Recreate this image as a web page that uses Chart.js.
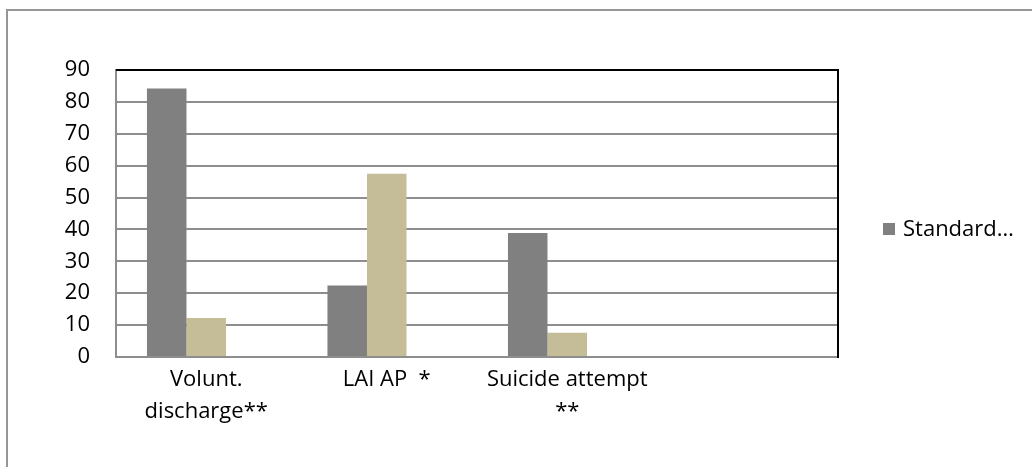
<!DOCTYPE html>
<html>
<head>
<meta charset="utf-8">
<script src="https://cdn.jsdelivr.net/npm/chart.js@4/dist/chart.umd.min.js"></script>
<style>
  html, body { margin: 0; padding: 0; background: #fff; overflow: hidden; }
  #wrap { position: relative; width: 1032px; height: 467px; }
  #frame {
    position: absolute; left: 6px; top: 9px; width: 1026px; height: 470px;
    border-top: 2px solid #969696; border-left: 2px solid #969696;
    box-sizing: border-box;
  }
  canvas { position: absolute; left: 0; top: 0; }
</style>
</head>
<body>
<div id="wrap">
  <div id="frame"></div>
  <canvas id="chart" width="1032" height="467"></canvas>
</div>
<script>
// categories along x, the last slot is left empty
const categories = [['Volunt.', 'discharge**'], 'LAI AP  *', ['Suicide attempt', '**'], ''];
// series values (%)
const standardValues = [84.2, 22.4, 38.9, null];
const secondValues = [12.2, 57.5, 7.6, null];
const thirdValues = [null, null, null, null];
// y axis
const yTicks = [0, 10, 20, 30, 40, 50, 60, 70, 80, 90];

const FONT = '"Open Sans", "Noto Sans", sans-serif';
const FONT_SIZE = 22;

// black top/right border of the plot area
const plotFrame = {
    id: 'plotFrame',
    afterDatasetsDraw(chart) {
        const { ctx, chartArea: a } = chart;
        ctx.save();
        ctx.strokeStyle = '#000';
        ctx.lineWidth = 2;
        ctx.beginPath();
        ctx.moveTo(a.left, a.top);
        ctx.lineTo(a.right, a.top);
        ctx.lineTo(a.right, a.bottom + 1);
        ctx.stroke();
        ctx.restore();
    }
};

// legend: only the first series label fits in the box
const sideLegend = {
    id: 'sideLegend',
    afterDraw(chart) {
        const { ctx } = chart;
        const ds = chart.data.datasets[0];
        ctx.save();
        ctx.fillStyle = ds.backgroundColor;
        ctx.fillRect(883, 223, 12, 12);
        ctx.fillStyle = '#000';
        ctx.font = FONT_SIZE + 'px ' + FONT;
        ctx.textBaseline = 'alphabetic';
        ctx.fillText(ds.label, 903, 236);
        ctx.restore();
    }
};

new Chart(document.getElementById('chart'), {
    type: 'bar',
    data: {
        labels: categories,
        datasets: [
            { label: 'Standard…', data: standardValues, backgroundColor: '#808080' },
            { label: 'Series 2', data: secondValues, backgroundColor: '#c4bd97' },
            { label: 'Series 3', data: thirdValues, backgroundColor: '#4f81bd' }
        ]
    },
    options: {
        responsive: false,
        animation: false,
        layout: { padding: { top: 70, right: 194, left: 0, bottom: 0 } },
        datasets: { bar: { categoryPercentage: 0.657, barPercentage: 1 } },
        scales: {
            x: {
                grid: { display: false, drawTicks: false },
                border: { color: '#8e8e8e', width: 2 },
                ticks: { color: '#000', padding: 6, maxRotation: 0, autoSkip: false,
                         font: { family: FONT, size: FONT_SIZE, lineHeight: 1.48 } },
                afterFit(scale) { scale.height = 110; }
            },
            y: {
                min: 0, max: 90,
                afterBuildTicks(scale) { scale.ticks = yTicks.map(v => ({ value: v })); },
                grid: { color: '#8e8e8e', lineWidth: 2, drawTicks: false },
                border: { color: '#8e8e8e', width: 2 },
                ticks: { color: '#000', padding: 26, font: { family: FONT, size: FONT_SIZE } },
                afterFit(scale) { scale.width = 116; }
            }
        },
        plugins: {
            legend: { display: false },
            tooltip: { enabled: false }
        }
    },
    plugins: [plotFrame, sideLegend]
});
</script>
</body>
</html>
